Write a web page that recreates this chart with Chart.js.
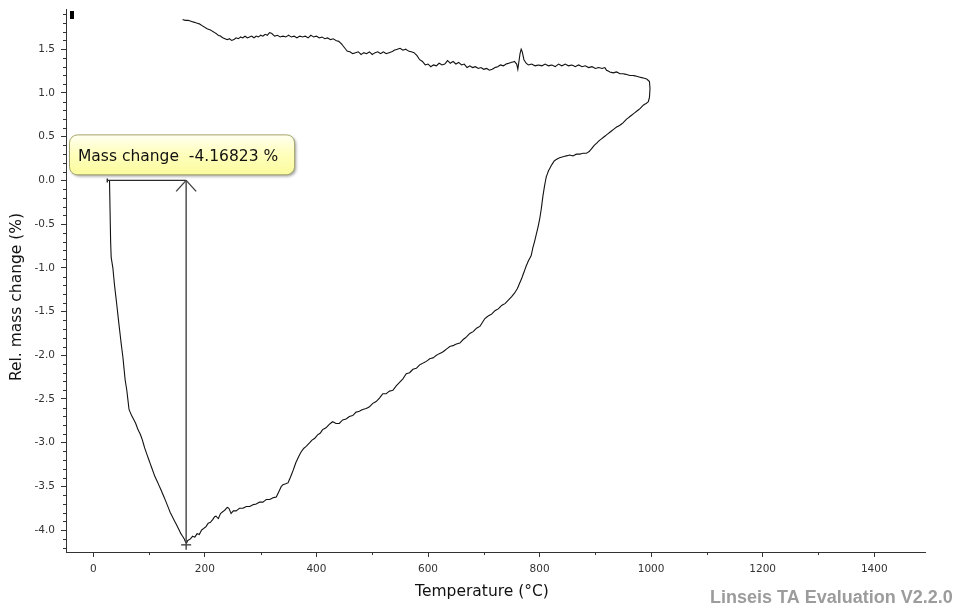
<!DOCTYPE html>
<html>
<head>
<meta charset="utf-8">
<script src="https://cdn.jsdelivr.net/npm/chart.js@4.4.1/dist/chart.umd.min.js"></script>
<style>
  html, body { margin: 0; padding: 0; background: #fff; }
  #wrap { width: 958px; height: 611px; position: relative; }
</style>
</head>
<body>
<div id="wrap"><canvas id="tga"></canvas></div>
<script>
// TGA run, points in measurement order: heating down to the minimum, up to ~1000 C, then cooling back
const tempC = [
  29, 30, 31, 32, 35, 38, 42, 46, 50, 53, 57, 60, 64, 68, 72, 76, 80, 84, 88, 92,
  97, 102, 106, 110, 115, 120, 124, 128, 133, 138, 142, 146, 150, 154, 157, 160, 163, 165, 167, 169,
  174, 178, 182, 186, 190, 194, 198, 202, 206, 210, 214, 217, 220, 224, 228, 232, 236, 240, 243, 247,
  251, 256, 262, 268, 274, 280, 286, 292, 298, 304, 310, 316, 322, 328, 331, 334, 337, 340, 345, 349,
  353, 358, 363, 368, 373, 378, 382, 388, 392, 397, 402, 407, 411, 417, 423, 429, 435, 441, 447, 453,
  459, 465, 471, 477, 483, 489, 495, 501, 507, 513, 519, 525, 531, 537, 543, 549, 555, 561, 567, 573,
  579, 585, 591, 597, 603, 609, 615, 621, 627, 633, 639, 645, 651, 657, 663, 669, 675, 681, 687, 693,
  698, 702, 708, 714, 720, 726, 732, 738, 744, 750, 755, 760, 764, 768, 772, 776, 780, 785, 788, 791,
  794, 797, 800, 803, 806, 809, 812, 816, 821, 826, 830, 836, 842, 848, 854, 860, 866, 872, 878, 884,
  889, 893, 898, 903, 908, 914, 920, 926, 932, 938, 944, 950, 956, 962, 968, 974, 980, 986, 991, 995,
  997, 998, 997, 992,
  986, 980, 974, 968, 962, 956, 950, 944, 938, 932, 926, 920, 917, 912, 906, 900, 894, 888, 882, 876,
  870, 864, 858, 852, 846, 840, 834, 828, 822, 816, 810, 804, 798, 792, 786, 780, 776, 772, 769, 767,
  765, 763, 761, 759, 755, 750, 745, 740, 735, 730, 725, 720, 715, 710, 705, 700, 695, 690, 685, 680,
  675, 670, 665, 660, 655, 650, 645, 640, 635, 630, 625, 620, 615, 610, 605, 600, 595, 590, 585, 580,
  575, 570, 565, 560, 555, 550, 545, 540, 535, 530, 525, 520, 515, 510, 505, 500, 495, 490, 485, 480,
  475, 470, 465, 460, 455, 450, 445, 440, 435, 430, 425, 420, 415, 410, 405, 400, 395, 390, 385, 380,
  375, 370, 365, 360, 355, 350, 345, 340, 335, 330, 325, 320, 316, 312, 308, 304, 300, 296, 292, 288,
  284, 280, 276, 272, 268, 264, 260, 256, 252, 248, 244, 240, 236, 232, 228, 224, 220, 215, 210, 205,
  200, 195, 190, 185, 180, 175, 170, 165, 160
];
const massPct = [
  0.0, -0.35, -0.7, -0.88, -1.0, -1.2, -1.42, -1.65, -1.87, -2.02, -2.28, -2.4, -2.62, -2.68, -2.73, -2.78, -2.85, -2.9, -2.97, -3.06,
  -3.15, -3.24, -3.31, -3.38, -3.45, -3.52, -3.58, -3.64, -3.72, -3.8, -3.85, -3.9, -3.95, -4.0, -4.04, -4.07, -4.1, -4.13, -4.15, -4.12,
  -4.1, -4.07, -4.08, -4.04, -4.05, -4.0, -3.98, -3.96, -3.92, -3.91, -3.88, -3.85, -3.84, -3.87, -3.81, -3.79, -3.77, -3.74, -3.75, -3.81,
  -3.78, -3.78, -3.75, -3.75, -3.73, -3.73, -3.71, -3.7, -3.68, -3.68, -3.65, -3.65, -3.63, -3.62, -3.58, -3.54, -3.5, -3.48, -3.47, -3.46,
  -3.4, -3.32, -3.23, -3.16, -3.1, -3.06, -3.04, -3.0, -2.97, -2.95, -2.91, -2.89, -2.85, -2.83, -2.79, -2.76, -2.78, -2.78, -2.74, -2.73,
  -2.7, -2.69, -2.65, -2.64, -2.62, -2.61, -2.59, -2.55, -2.53, -2.49, -2.44, -2.44, -2.41, -2.4, -2.35, -2.31, -2.27, -2.21, -2.2, -2.16,
  -2.15, -2.11, -2.09, -2.07, -2.04, -2.03, -2.0, -1.98, -1.96, -1.93, -1.9, -1.89, -1.87, -1.86, -1.82, -1.79, -1.75, -1.73, -1.69, -1.67,
  -1.62, -1.58, -1.55, -1.53, -1.49, -1.47, -1.43, -1.41, -1.37, -1.33, -1.29, -1.24, -1.18, -1.12, -1.05, -0.98, -0.92, -0.86, -0.77, -0.7,
  -0.62, -0.54, -0.45, -0.33, -0.18, -0.06, 0.04, 0.11, 0.17, 0.22, 0.24, 0.26, 0.27, 0.28, 0.29, 0.28, 0.3, 0.3, 0.31, 0.31,
  0.33, 0.36, 0.4, 0.43, 0.46, 0.49, 0.52, 0.55, 0.58, 0.61, 0.63, 0.66, 0.7, 0.73, 0.76, 0.79, 0.82, 0.86, 0.88, 0.9,
  0.95, 1.05, 1.13, 1.16,
  1.17, 1.18, 1.19, 1.2, 1.2, 1.21, 1.22, 1.22, 1.24, 1.23, 1.24, 1.26, 1.29, 1.28, 1.29, 1.28, 1.3, 1.29, 1.31, 1.3,
  1.32, 1.3, 1.32, 1.31, 1.33, 1.31, 1.33, 1.3, 1.32, 1.31, 1.33, 1.31, 1.32, 1.31, 1.33, 1.32, 1.34, 1.38, 1.47, 1.5,
  1.45, 1.36, 1.27, 1.33, 1.36, 1.35, 1.34, 1.33, 1.31, 1.32, 1.3, 1.29, 1.27, 1.26, 1.28, 1.27, 1.29, 1.28, 1.3, 1.29,
  1.31, 1.29, 1.33, 1.32, 1.35, 1.33, 1.36, 1.34, 1.37, 1.33, 1.32, 1.34, 1.31, 1.32, 1.3, 1.33, 1.32, 1.36, 1.38, 1.43,
  1.46, 1.47, 1.48, 1.5, 1.49, 1.51, 1.5, 1.49, 1.47, 1.46, 1.45, 1.47, 1.45, 1.47, 1.46, 1.44, 1.47, 1.45, 1.46, 1.44,
  1.47, 1.46, 1.45, 1.47, 1.48, 1.52, 1.56, 1.59, 1.6, 1.62, 1.61, 1.63, 1.62, 1.64, 1.63, 1.65, 1.64, 1.66, 1.63, 1.65,
  1.64, 1.65, 1.63, 1.65, 1.64, 1.66, 1.64, 1.65, 1.64, 1.66, 1.65, 1.68, 1.69, 1.66, 1.67, 1.65, 1.66, 1.64, 1.65, 1.63,
  1.65, 1.64, 1.63, 1.65, 1.63, 1.64, 1.62, 1.63, 1.61, 1.6, 1.62, 1.61, 1.62, 1.63, 1.65, 1.66, 1.68, 1.7, 1.72, 1.73,
  1.75, 1.77, 1.79, 1.8, 1.81, 1.82, 1.83, 1.83, 1.84
];

const xTicks = [0, 200, 400, 600, 800, 1000, 1200, 1400];
const yTicks = [-4.0, -3.5, -3.0, -2.5, -2.0, -1.5, -1.0, -0.5, 0.0, 0.5, 1.0, 1.5];

// mass change evaluation marker
const stepTemps = [25, 166.4];
const stepLevel = 0;
const massChange = -4.16823;

const AXIS = '#333';
const FONT = "'DejaVu Sans', sans-serif";

function line(ctx, x1, y1, x2, y2) {
  ctx.beginPath();
  ctx.moveTo(x1, y1);
  ctx.lineTo(x2, y2);
  ctx.stroke();
}

const decorations = {
  id: 'decorations',
  afterDraw(chart) {
    const ctx = chart.ctx;
    const xs = chart.scales.x, ys = chart.scales.y;
    const area = chart.chartArea;
    ctx.save();

    // minor ticks
    ctx.strokeStyle = AXIS;
    ctx.lineWidth = 1;
    for (let i = -42; i <= 19; i++) {
      if (i % 5 === 0) continue;
      const y = Math.round(ys.getPixelForValue(i / 10)) + 0.5;
      line(ctx, area.left - 3, y, area.left, y);
    }
    for (let t = 100; t < 1500; t += 200) {
      const x = Math.round(xs.getPixelForValue(t)) + 0.5;
      line(ctx, x, area.bottom, x, area.bottom + 3);
    }

    // little cursor mark in the corner
    ctx.fillStyle = '#000';
    ctx.fillRect(area.left + 4, area.top + 2, 4, 8);

    // step marker
    const x0 = xs.getPixelForValue(stepTemps[0]);
    const x1 = xs.getPixelForValue(stepTemps[1]);
    const yTop = ys.getPixelForValue(stepLevel);
    const yBot = ys.getPixelForValue(stepLevel + massChange);
    ctx.strokeStyle = '#2a2a2a';
    ctx.lineWidth = 1.4;
    line(ctx, x0, yTop, x1, yTop);
    line(ctx, x0, yTop - 2, x0, yTop + 2);
    ctx.strokeStyle = '#444';
    line(ctx, x1, yTop, x1, yBot + 5);
    line(ctx, x1 - 10, yTop + 11, x1, yTop);
    line(ctx, x1, yTop, x1 + 10, yTop + 11);
    line(ctx, x1 - 5, yBot, x1 + 5, yBot);

    // label box
    const label = 'Mass change  ' + massChange.toFixed(5) + ' %';
    ctx.font = '15.5px ' + FONT;
    const tw = ctx.measureText(label).width;
    const bx = area.left + 3, by = yTop - 46, bw = tw + 25, bh = 40;
    ctx.save();
    ctx.shadowColor = 'rgba(0,0,0,0.35)';
    ctx.shadowOffsetX = 2;
    ctx.shadowOffsetY = 2;
    ctx.shadowBlur = 3;
    const grad = ctx.createLinearGradient(0, by, 0, by + bh);
    grad.addColorStop(0, '#fffff2');
    grad.addColorStop(0.45, '#ffffc0');
    grad.addColorStop(1, '#fbfb9e');
    ctx.fillStyle = grad;
    ctx.beginPath();
    ctx.roundRect(bx, by, bw, bh, 8);
    ctx.fill();
    ctx.restore();
    ctx.strokeStyle = '#a5a56a';
    ctx.lineWidth = 1;
    ctx.beginPath();
    ctx.roundRect(bx + 0.5, by + 0.5, bw, bh, 8);
    ctx.stroke();
    ctx.fillStyle = '#111';
    ctx.textBaseline = 'middle';
    ctx.textAlign = 'left';
    ctx.fillText(label, bx + 9, by + 23);

    // axis titles
    ctx.font = '15.5px ' + FONT;
    ctx.textAlign = 'center';
    ctx.fillText('Temperature (\u00b0C)', 482, 592);
    ctx.save();
    ctx.translate(17, 297);
    ctx.rotate(-Math.PI / 2);
    ctx.fillText('Rel. mass change (%)', 0, 0);
    ctx.restore();

    // software watermark
    ctx.font = "bold 18px 'Liberation Sans', Arial, sans-serif";
    ctx.fillStyle = '#9c9c9c';
    ctx.textAlign = 'left';
    ctx.fillText('Linseis TA Evaluation V2.2.0', 710, 598);

    ctx.restore();
  }
};

new Chart(document.getElementById('tga'), {
  type: 'scatter',
  data: {
    datasets: [{
      data: tempC.map((t, i) => ({ x: t, y: massPct[i] })),
      showLine: true,
      borderColor: '#111',
      borderWidth: 1.1,
      pointRadius: 0,
      // a tiny tension keeps Chart.js off its per-pixel fast path, which thins near-vertical runs
      tension: 0.001
    }]
  },
  options: {
    responsive: true,
    maintainAspectRatio: false,
    animation: false,
    layout: { padding: { left: 0, right: 33, top: 9, bottom: 0 } },
    plugins: { legend: { display: false }, tooltip: { enabled: false } },
    scales: {
      x: {
        type: 'linear',
        min: -49,
        max: 1491,
        afterBuildTicks: s => { s.ticks = xTicks.map(v => ({ value: v })); },
        afterFit: s => { s.height = 59; s.paddingLeft = 0; s.paddingRight = 0; },
        grid: { drawOnChartArea: false, tickLength: 5, color: AXIS },
        border: { color: AXIS, width: 1 },
        ticks: {
          color: '#333', font: { family: FONT, size: 10.5 }, padding: 6, maxRotation: 0, autoSkip: false,
          callback: v => String(v)
        }
      },
      y: {
        min: -4.25,
        max: 1.96,
        afterBuildTicks: s => { s.ticks = yTicks.map(v => ({ value: v })); },
        afterFit: s => { s.width = 66; s.paddingTop = 0; s.paddingBottom = 0; },
        grid: { drawOnChartArea: false, tickLength: 5, color: AXIS },
        border: { color: AXIS, width: 1 },
        ticks: {
          color: '#333', font: { family: FONT, size: 10.5 }, padding: 6, autoSkip: false,
          callback: v => v.toFixed(1)
        }
      }
    }
  },
  plugins: [decorations]
});
</script>
</body>
</html>
